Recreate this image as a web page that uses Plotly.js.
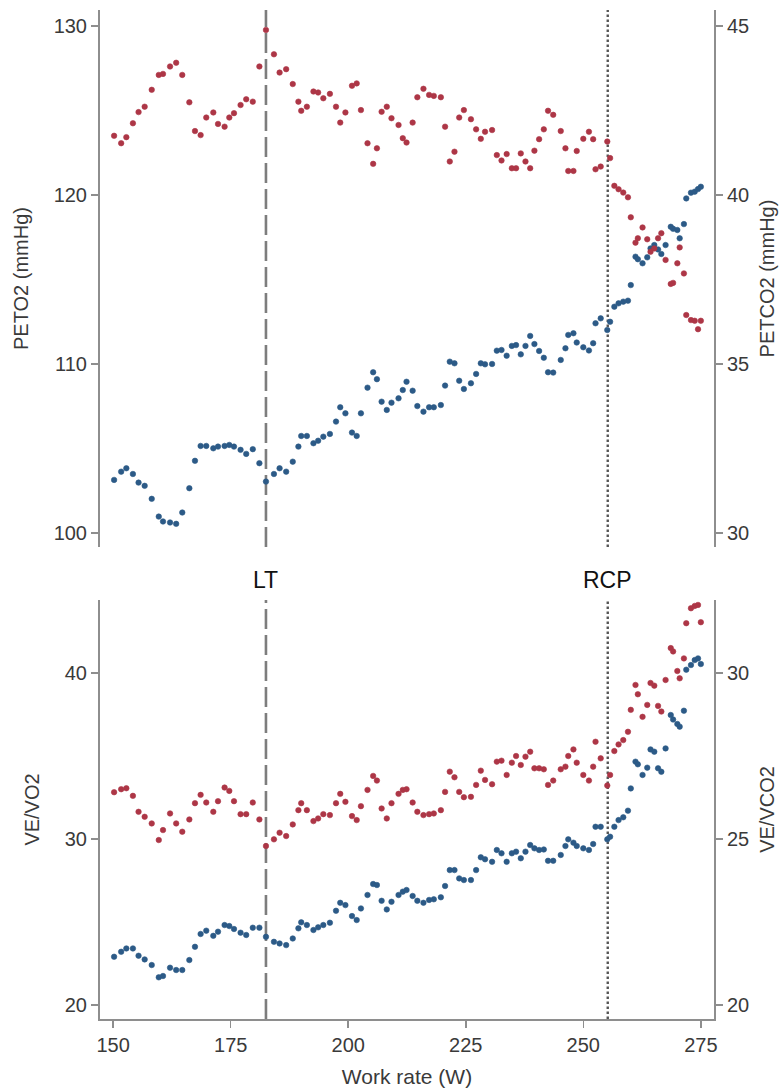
<!DOCTYPE html>
<html>
<head>
<meta charset="utf-8">
<script src="https://cdn.plot.ly/plotly-3.0.1.min.js"></script>
<style>
  html, body { margin: 0; padding: 0; background: #ffffff; }
  #chart { width: 781px; height: 1091px; }
</style>
</head>
<body>
<div id="chart"></div>
<script>
// Work rate (W) of each averaged sample, shared by all four series
const workRate = [
  150.2, 151.7, 152.8, 154.2, 155.4, 156.7, 158.2, 159.7, 160.6, 162.1, 163.4, 164.7, 166.2,
  167.4, 168.6, 169.8, 171.3, 172.3, 173.7, 174.7, 175.7, 177.1, 178.3, 179.7, 181.1, 182.5,
  184.2, 185.4, 186.8, 188.2, 189.4, 190.0, 191.2, 192.6, 193.6, 194.7, 196.1, 197.4, 198.3,
  199.4, 200.8, 201.8, 202.7, 204.1, 205.3, 206.1, 207.1, 208.2, 209.2, 210.7, 211.6, 212.4,
  213.7, 214.7, 216.0,
  217.2, 218.2, 219.7, 220.6, 221.6, 222.6, 223.6, 224.6, 226.1, 227.2, 228.2, 229.1, 230.6,
  231.6, 232.6, 233.7, 234.8, 235.7, 236.7, 237.7, 238.7, 239.6, 240.6, 241.6, 242.5, 243.6,
  245.2, 246.2, 246.8,
  247.9, 248.6, 250.0, 251.2, 252.1, 252.6, 253.7, 255.1, 255.7, 256.6, 257.5, 258.5, 259.5,
  260.1, 261.1, 261.6, 262.6, 263.6, 264.3, 265.1, 265.9, 266.6, 267.5, 268.6, 269.1, 270.0,
  270.5, 271.4, 271.9, 272.9, 273.7, 274.4, 275.0
];

// End-tidal O2 (mmHg), left axis of the upper panel
const peto2 = [
  103.14, 103.63, 103.83, 103.49, 102.98, 102.79, 102.02, 100.97, 100.68, 100.62, 100.54, 101.21, 102.65,
  104.27, 105.15, 105.15, 105.01, 105.11, 105.15, 105.21, 105.11, 104.92, 104.68, 104.96, 104.13, 103.04,
  103.49, 103.83, 103.63, 104.22, 105.11, 105.74, 105.74, 105.31, 105.46, 105.70, 105.86, 106.59, 107.44,
  107.08, 105.94, 105.74, 107.08, 108.60, 109.51, 109.10, 107.77, 107.28, 107.71, 107.97, 108.46, 108.95,
  108.42, 107.51, 107.18,
  107.44, 107.44, 107.57, 108.72, 110.14, 110.04, 109.01, 108.52, 108.86, 109.41, 110.04, 109.98, 110.00,
  110.79, 110.83, 110.49, 111.07, 111.12, 110.57, 111.07, 111.66, 111.18, 110.77, 110.37, 109.51, 109.49,
  110.24, 110.93, 111.72,
  111.82, 111.27, 110.99, 110.80, 111.23, 112.41, 112.70, 112.01, 112.50, 113.39, 113.59, 113.69, 113.75,
  114.67, 116.35, 116.20, 115.96, 116.31, 116.84, 117.04, 116.78, 116.51, 117.04, 118.12, 118.00, 117.93,
  117.44, 118.28, 119.80, 120.14, 120.20, 120.35, 120.49
];

// End-tidal CO2 (mmHg), right axis of the upper panel
const petco2 = [
  41.75, 41.53, 41.71, 42.12, 42.45, 42.61, 43.11, 43.55, 43.58, 43.80, 43.91, 43.55, 42.74,
  41.89, 41.77, 42.29, 42.44, 42.10, 42.02, 42.29, 42.42, 42.66, 42.83, 42.76, 43.80, 44.88,
  44.16, 43.62, 43.72, 43.28, 42.76, 42.49, 42.61, 43.06, 43.03, 42.86, 42.99, 42.61, 42.14,
  42.44, 43.23, 43.30, 42.51, 41.53, 40.92, 41.38, 42.46, 42.61, 42.27, 42.07, 41.68, 41.55,
  42.14, 42.89, 43.14,
  42.96, 42.93, 42.89, 42.02, 40.99, 41.28, 42.29, 42.51, 42.24, 41.94, 41.66, 41.87, 41.92,
  41.18, 41.02, 41.21, 40.79, 40.79, 41.23, 40.99, 40.79, 41.31, 41.65, 41.94, 42.49, 42.37,
  41.89, 41.38, 40.71,
  40.71, 41.30, 41.66, 41.87, 41.65, 40.76, 40.84, 41.58, 41.09, 40.27, 40.17, 40.07, 39.93,
  39.34, 38.59, 38.72, 39.04, 38.69, 38.32, 38.42, 38.72, 38.87, 38.08, 37.37, 37.40, 37.98,
  38.45, 37.68, 36.45, 36.30, 36.28, 36.03, 36.28
];

// Ventilatory equivalent for O2, left axis of the lower panel
const veVo2 = [
  22.91, 23.21, 23.41, 23.41, 22.97, 22.75, 22.41, 21.67, 21.75, 22.25, 22.11, 22.11, 22.71,
  23.51, 24.28, 24.48, 24.17, 24.42, 24.82, 24.76, 24.58, 24.36, 24.22, 24.66, 24.66, 24.11,
  23.81, 23.71, 23.61, 24.01, 24.62, 24.98, 24.82, 24.52, 24.68, 24.82, 24.96, 25.68, 26.16,
  26.02, 25.36, 25.12, 25.82, 26.63, 27.29, 27.23, 26.28, 25.76, 26.22, 26.63, 26.83, 26.93,
  26.57, 26.28, 26.16,
  26.33, 26.37, 26.49, 27.17, 28.13, 28.13, 27.63, 27.53, 27.53, 28.13, 28.90, 28.78, 28.63,
  29.34, 29.14, 28.63, 29.14, 29.24, 28.84, 29.24, 29.64, 29.44, 29.34, 29.37, 28.69, 28.69,
  29.04, 29.58, 29.98,
  29.78, 29.58, 29.44, 29.34, 29.70, 30.74, 30.74, 29.98, 30.14, 30.74, 31.14, 31.31, 31.71,
  33.05, 34.66, 34.50, 33.86, 34.30, 35.40, 35.26, 34.26, 34.05, 35.46, 37.47, 37.20, 36.93,
  36.77, 37.73, 40.20, 40.48, 40.78, 40.88, 40.54
];

// Ventilatory equivalent for CO2, right axis of the lower panel
const veVco2 = [
  26.41, 26.50, 26.53, 26.30, 25.82, 25.67, 25.47, 24.97, 25.27, 25.77, 25.47, 25.22, 25.59,
  26.08, 26.33, 26.10, 25.82, 26.14, 26.55, 26.45, 26.14, 25.75, 25.75, 26.10, 25.59, 24.79,
  24.99, 25.19, 25.09, 25.44, 25.87, 26.08, 25.87, 25.54, 25.62, 25.75, 25.72, 26.08, 26.36,
  26.12, 25.69, 25.57, 25.99, 26.48, 26.90, 26.76, 25.92, 25.62, 26.08, 26.36, 26.48, 26.50,
  26.10, 25.82, 25.72,
  25.75, 25.77, 25.87, 26.42, 27.03, 26.86, 26.42, 26.26, 26.27, 26.63, 27.06, 26.78, 26.65,
  27.33, 27.36, 26.93, 27.30, 27.50, 27.23, 27.48, 27.63, 27.13, 27.13, 27.10, 26.63, 26.76,
  27.10, 27.18, 27.50,
  27.70, 27.30, 26.93, 26.76, 27.18, 27.93, 27.43, 26.61, 26.93, 27.65, 27.85, 27.98, 28.23,
  28.89, 29.64, 29.36, 28.68, 29.04, 29.70, 29.62, 29.01, 28.84, 29.79, 30.75, 30.65, 30.06,
  29.84, 30.44, 31.50, 31.95, 32.02, 32.05, 31.53
];

// Threshold work rates (W)
const thresholdNames = ['LT', 'RCP'];
const thresholdWatts = [182.5, 255.2];

const xTicks = [150, 175, 200, 225, 250, 275];
const peto2Ticks = [100, 110, 120, 130];
const petco2Ticks = [30, 35, 40, 45];
const veVo2Ticks = [20, 30, 40];
const veVco2Ticks = [20, 25, 30];

const RED = '#ad3646';
const BLUE = '#2c5a87';
const AXIS = '#8e8e8e';
const TEXT = '#3a3a3a';
const FONT = 'Arial, "Liberation Sans", Helvetica, sans-serif';

function dots(y, color, xa, ya) {
  return {
    type: 'scatter', mode: 'markers', x: workRate, y: y, xaxis: xa, yaxis: ya,
    marker: { size: 5.5, color: color, line: { width: 0.6, color: color } },
    hoverinfo: 'x+y', showlegend: false
  };
}

const traces = [
  dots(peto2, BLUE, 'x2', 'y'),
  dots(petco2, RED, 'x2', 'y2'),
  dots(veVo2, BLUE, 'x', 'y3'),
  dots(veVco2, RED, 'x', 'y4')
];

const yCommon = {
  showline: true, linecolor: AXIS, linewidth: 2, ticks: 'outside', ticklen: 7,
  tickcolor: AXIS, tickwidth: 1.5, showgrid: false, zeroline: false,
  tickfont: { family: FONT, size: 20, color: TEXT }
};
const titleFont = { family: FONT, size: 20, color: TEXT };

// Vertical threshold lines, drawn in each panel
const lineStyles = [
  { color: '#7d7d7d', width: 2.6, dash: '20px,6px' },
  { color: '#555555', width: 2.4, dash: '2.4px,2.6px' }
];
const shapes = [];
thresholdWatts.forEach((w, i) => {
  ['y domain', 'y3 domain'].forEach((yr, k) => {
    shapes.push({
      type: 'line', xref: k === 0 ? 'x2' : 'x', yref: yr,
      x0: w, x1: w, y0: 0, y1: 1, line: lineStyles[i], layer: 'below'
    });
  });
});

const annotations = thresholdNames.map((name, i) => ({
  text: name, x: thresholdWatts[i], xref: 'x', y: 0.4355, yref: 'paper',
  showarrow: false, xanchor: 'center', yanchor: 'middle',
  font: { family: FONT, size: 23, color: '#111111' }
}));

const layout = {
  width: 781, height: 1091,
  margin: { l: 100, r: 67, t: 10, b: 72 },
  paper_bgcolor: '#ffffff', plot_bgcolor: '#ffffff',
  showlegend: false,
  xaxis: {
    domain: [0, 1], anchor: 'y3', range: [147.2, 277.8],
    tickvals: xTicks, ticks: 'outside', ticklen: 7, tickcolor: AXIS, tickwidth: 1.5,
    showline: true, linecolor: AXIS, linewidth: 2, showgrid: false, zeroline: false,
    tickfont: { family: FONT, size: 20, color: TEXT },
    title: { text: 'Work rate (W)', font: { family: FONT, size: 21, color: TEXT }, standoff: 14 }
  },
  xaxis2: {
    domain: [0, 1], anchor: 'y', range: [147.2, 277.8], matches: 'x',
    visible: false
  },
  yaxis: Object.assign({}, yCommon, {
    domain: [0.4678, 1], anchor: 'x2', range: [99.17, 130.95], tickvals: peto2Ticks,
    title: { text: 'PETO2 (mmHg)', font: titleFont, standoff: 20 }
  }),
  yaxis2: Object.assign({}, yCommon, {
    overlaying: 'y', side: 'right', anchor: 'x2', range: [29.59, 45.47], tickvals: petco2Ticks,
    title: { text: 'PETCO2 (mmHg)', font: titleFont, standoff: 12 }
  }),
  yaxis3: Object.assign({}, yCommon, {
    domain: [0, 0.4153], anchor: 'x', range: [19.16, 44.40], tickvals: veVo2Ticks,
    title: { text: 'VE/VO2', font: titleFont, standoff: 20 }
  }),
  yaxis4: Object.assign({}, yCommon, {
    overlaying: 'y3', side: 'right', anchor: 'x', range: [19.58, 32.20], tickvals: veVco2Ticks,
    title: { text: 'VE/VCO2', font: titleFont, standoff: 12 }
  }),
  shapes: shapes,
  annotations: annotations
};

Plotly.newPlot('chart', traces, layout, { staticPlot: true, displayModeBar: false });
</script>
</body>
</html>
